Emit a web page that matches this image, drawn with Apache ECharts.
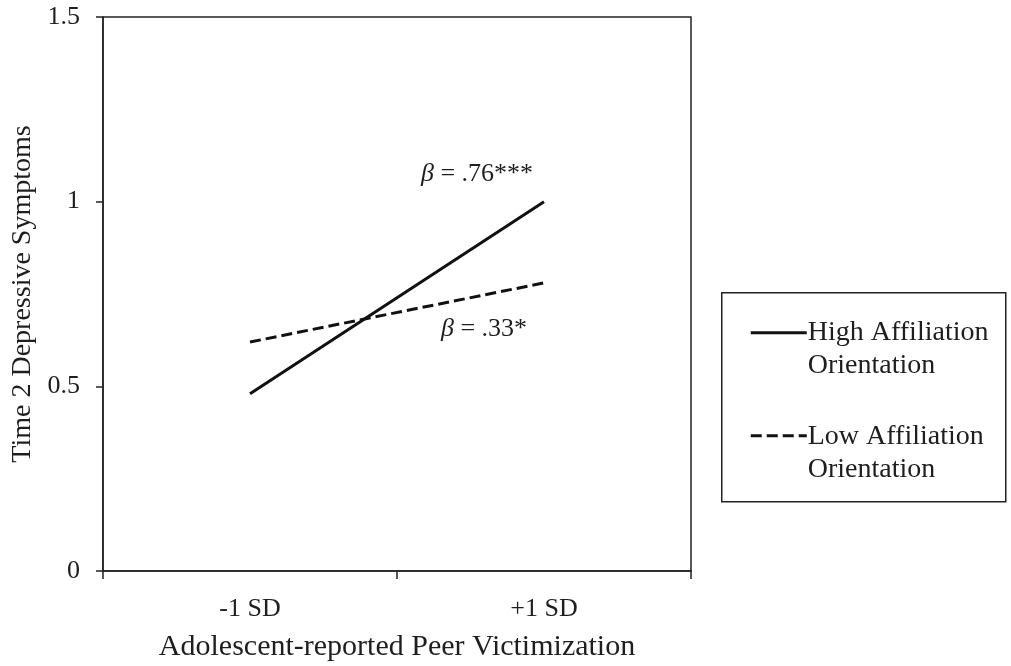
<!DOCTYPE html>
<html>
<head>
<meta charset="utf-8">
<script src="https://cdn.jsdelivr.net/npm/echarts@6/dist/echarts.min.js"></script>
<style>
  html, body { margin: 0; padding: 0; background: #fff; }
  #chart { width: 1011px; height: 666px; }
</style>
</head>
<body>
<div id="chart"></div>
<script>
// Simple-slopes plot: depressive symptoms by peer victimization level
const categories = ['-1 SD', '+1 SD'];
const highAffiliation = [0.48, 1.0];
const lowAffiliation = [0.62, 0.78];
const seriesNames = ['High Affiliation\nOrientation', 'Low Affiliation\nOrientation'];
const slopeLabels = ['.76***', '.33*'];
const yTicks = [0, 0.5, 1, 1.5];

const FONT = '"Liberation Serif", "DejaVu Serif", serif';
const INK = '#1e1e1e';
const AXIS = '#222';

const chart = echarts.init(document.getElementById('chart'));

// slope annotation attached to the right-hand end of each line
function slopeLabel(text, offset, position) {
  return {
    show: true,
    position: position,
    distance: 5,
    offset: offset,
    formatter: '{b|β}{t| = ' + text + '}',
    rich: {
      b: { fontFamily: FONT, fontSize: 26, fontStyle: 'italic', color: INK },
      t: { fontFamily: FONT, fontSize: 26, color: INK }
    }
  };
}

function lineData(values, label) {
  return values.map((v, i) => i === values.length - 1 ? { value: v, label: label } : v);
}

const option = {
  animation: false,
  backgroundColor: '#fff',
  grid: {
    left: 103, top: 17, right: 320, bottom: 95,
    outerBoundsMode: 'none',
    containLabel: false,
    show: true, borderColor: AXIS, borderWidth: 1.5, backgroundColor: 'transparent'
  },
  xAxis: {
    type: 'category',
    data: categories,
    boundaryGap: true,
    axisLine: { lineStyle: { color: AXIS, width: 1.5 } },
    axisTick: { show: true, length: 8, lineStyle: { color: AXIS, width: 1.5 } },
    axisLabel: { fontFamily: FONT, fontSize: 26, color: INK, margin: 25 },
    name: 'Adolescent-reported Peer Victimization',
    nameLocation: 'middle',
    nameGap: 61,
    nameTextStyle: { fontFamily: FONT, fontSize: 30, color: INK }
  },
  yAxis: {
    type: 'value',
    min: yTicks[0],
    max: yTicks[yTicks.length - 1],
    interval: 0.5,
    splitLine: { show: false },
    axisLine: { show: true, lineStyle: { color: AXIS, width: 1.5 } },
    axisTick: { show: true, length: 7, lineStyle: { color: AXIS, width: 1.5 } },
    axisLabel: { fontFamily: FONT, fontSize: 26, color: INK, margin: 23 },
    name: 'Time 2 Depressive Symptoms',
    nameLocation: 'middle',
    nameGap: 66,
    nameTextStyle: { fontFamily: FONT, fontSize: 28, color: INK }
  },
  series: [
    {
      name: seriesNames[0],
      type: 'line',
      symbol: 'circle',
      symbolSize: 0.1,
      showSymbol: true,
      itemStyle: { color: 'rgba(0,0,0,0)' },
      emphasis: { disabled: true },
      lineStyle: { color: '#111', width: 3 },
      data: lineData(highAffiliation, slopeLabel(slopeLabels[0], [-67, -9], 'top'))
    },
    {
      name: seriesNames[1],
      type: 'line',
      symbol: 'circle',
      symbolSize: 0.1,
      showSymbol: true,
      itemStyle: { color: 'rgba(0,0,0,0)' },
      emphasis: { disabled: true },
      lineStyle: { color: '#111', width: 3, type: [11, 5] },
      data: lineData(lowAffiliation, slopeLabel(slopeLabels[1], [-60, 28], 'bottom'))
    }
  ],
  graphic: [
    {
      type: 'group',
      left: 721,
      top: 292,
      children: [
        { type: 'rect', shape: { x: 0, y: 0, width: 284, height: 209 },
          style: { fill: '#fff', stroke: AXIS, lineWidth: 1.5 } },
        { type: 'line', shape: { x1: 29, y1: 40, x2: 85, y2: 40 },
          style: { stroke: '#111', lineWidth: 3 } },
        { type: 'text', x: 86, y: 23.5,
          style: { text: seriesNames[0], font: '28px ' + FONT, fill: INK, lineHeight: 33 } },
        { type: 'line', shape: { x1: 29, y1: 143, x2: 85, y2: 143 },
          style: { stroke: '#111', lineWidth: 3, lineDash: [11, 5] } },
        { type: 'text', x: 86, y: 127.5,
          style: { text: seriesNames[1], font: '28px ' + FONT, fill: INK, lineHeight: 33 } }
      ]
    }
  ]
};

chart.setOption(option);
</script>
</body>
</html>
